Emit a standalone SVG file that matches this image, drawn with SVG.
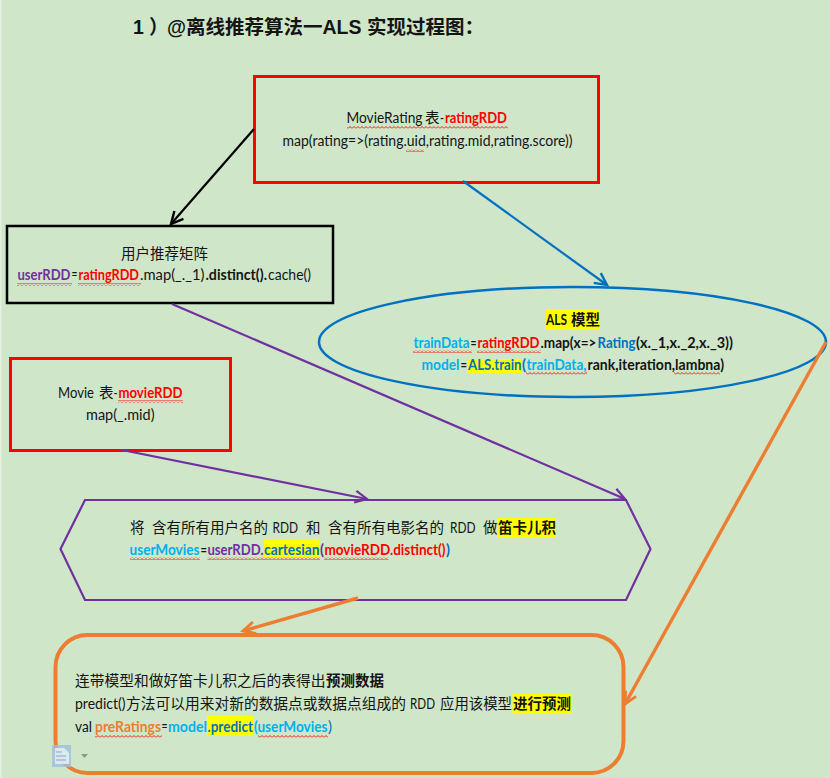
<svg xmlns="http://www.w3.org/2000/svg" width="830" height="778" viewBox="0 0 830 778">
<style>
text{font-family:Lato,"Noto Sans CJK SC",sans-serif;font-size:14.5px;fill:#141414}
.cjk{font-family:"Noto Sans CJK SC",sans-serif;font-size:14.5px}
.b{font-weight:700}
.r{fill:#ff0000}.p{fill:#7030a0}.c{fill:#00b0f0}.u{fill:#0070c0}.o{fill:#ed7d31}
.title{font-family:"Liberation Sans","Noto Sans CJK SC",sans-serif;font-size:19.5px;font-weight:700}
.y{fill:#ffff00}
.w{fill:url(#wave)}
.box{fill:none}
.conn{fill:none;stroke-width:2.2}
.thick{stroke-width:3.4}
</style>
<defs>
<pattern id="wave" patternUnits="userSpaceOnUse" width="4" height="3"><path d="M0 2.5L2 .5L4 2.5" fill="none" stroke="#f00" stroke-width=".9"/></pattern>
<marker id="mk" markerUnits="userSpaceOnUse" markerWidth="18" markerHeight="18" refX="15" refY="9" orient="auto"><path d="M3 3L15 9L3 15" fill="none" stroke="#000" stroke-width="2.4"/></marker>
<marker id="mu" markerUnits="userSpaceOnUse" markerWidth="18" markerHeight="18" refX="15" refY="9" orient="auto"><path d="M3 3L15 9L3 15" fill="none" stroke="#0070c0" stroke-width="2.4"/></marker>
<marker id="mp" markerUnits="userSpaceOnUse" markerWidth="18" markerHeight="18" refX="15" refY="9" orient="auto"><path d="M3 3L15 9L3 15" fill="none" stroke="#7030a0" stroke-width="2.2"/></marker>
<marker id="mo" markerUnits="userSpaceOnUse" markerWidth="18" markerHeight="18" refX="15" refY="9" orient="auto"><path d="M3 3L15 9L3 15" fill="none" stroke="#ed7d31" stroke-width="2.8"/></marker>
</defs>
<rect width="830" height="778" fill="#cfe6c9"/>
<rect width="1.5" height="778" fill="#e4f0e0"/>

<g id="title">
<text class="title" y="34"><tspan x="133">1</tspan><tspan x="149">）</tspan><tspan x="167">@离线推荐算法一ALS</tspan><tspan x="367">实现过程图：</tspan></text>
</g>

<g id="node-movierating">
<rect class="box" x="254.500" y="76.500" width="344" height="106" stroke="#ff0000" stroke-width="3"/>
<rect class="w" x="347" y="126" width="161" height="3"/><rect class="w" x="406" y="149" width="18" height="3"/>
<text y="123"><tspan x="346.500" textLength="76" lengthAdjust="spacingAndGlyphs">MovieRating</tspan><tspan class="cjk" x="425">表</tspan><tspan x="440" textLength="4" lengthAdjust="spacingAndGlyphs">-</tspan><tspan class="b r" x="445" textLength="62" lengthAdjust="spacingAndGlyphs">ratingRDD</tspan></text>
<text x="282.500" y="146" textLength="290" lengthAdjust="spacingAndGlyphs">map(rating=&gt;(rating.uid,rating.mid,rating.score))</text>
</g>

<g id="node-user-matrix">
<rect class="box" x="7" y="226" width="326" height="77" stroke="#000" stroke-width="2.500"/>
<text class="cjk" x="121" y="259">用户推荐矩阵</text>
<rect class="w" x="17" y="283" width="55" height="3"/><rect class="w" x="78" y="283" width="63" height="3"/>
<text y="280"><tspan class="b p" x="17.500" textLength="53" lengthAdjust="spacingAndGlyphs">userRDD</tspan><tspan x="71.500" textLength="6" lengthAdjust="spacingAndGlyphs">=</tspan><tspan class="b r" x="78.500" textLength="60.500" lengthAdjust="spacingAndGlyphs">ratingRDD</tspan><tspan x="140" textLength="64.500" lengthAdjust="spacingAndGlyphs">.map(_._1)</tspan><tspan class="b" x="205.500" textLength="61.500" lengthAdjust="spacingAndGlyphs">.distinct().</tspan><tspan x="268" textLength="43" lengthAdjust="spacingAndGlyphs">cache()</tspan></text>
</g>

<g id="node-als-model">
<ellipse class="box" cx="572.500" cy="342" rx="253.500" ry="55" stroke="#0070c0" stroke-width="2.500"/>
<rect class="y" x="545" y="309" width="55" height="21"/>
<text class="b" y="325"><tspan x="546" textLength="21" lengthAdjust="spacingAndGlyphs">ALS</tspan><tspan class="cjk" x="571">模型</tspan></text>
<rect class="w" x="413" y="350" width="59" height="3"/><rect class="w" x="477" y="350" width="64" height="3"/>
<text class="b" y="347.500"><tspan class="c" x="413.500" textLength="56" lengthAdjust="spacingAndGlyphs">trainData</tspan><tspan x="470.500" textLength="6" lengthAdjust="spacingAndGlyphs">=</tspan><tspan class="r" x="477.500" textLength="62" lengthAdjust="spacingAndGlyphs">ratingRDD</tspan><tspan x="540.500" textLength="56" lengthAdjust="spacingAndGlyphs">.map(x=&gt;</tspan><tspan class="u" x="597.500" textLength="38" lengthAdjust="spacingAndGlyphs">Rating</tspan><tspan x="636" textLength="97" lengthAdjust="spacingAndGlyphs">(x._1,x._2,x._3))</tspan></text>
<rect class="y" x="467.500" y="359" width="54.500" height="14"/>
<rect class="w" x="526" y="372" width="61" height="3"/><rect class="w" x="674" y="372" width="46" height="3"/>
<text class="b" y="369.500"><tspan class="c" x="421.500" textLength="38" lengthAdjust="spacingAndGlyphs">model</tspan><tspan x="460.500" textLength="6.500" lengthAdjust="spacingAndGlyphs">=</tspan><tspan class="u" x="468" textLength="53.500" lengthAdjust="spacingAndGlyphs">ALS.train</tspan><tspan class="u" x="522" textLength="4" lengthAdjust="spacingAndGlyphs">(</tspan><tspan class="c" x="526.500" textLength="60" lengthAdjust="spacingAndGlyphs">trainData,</tspan><tspan x="587.500" textLength="136.500" lengthAdjust="spacingAndGlyphs">rank,iteration,lambna)</tspan></text>
</g>

<g id="node-movie">
<rect class="box" x="10.500" y="358.500" width="220" height="92" stroke="#ff0000" stroke-width="3"/>
<rect class="w" x="118" y="400" width="65" height="3"/>
<text y="398"><tspan x="58" textLength="36" lengthAdjust="spacingAndGlyphs">Movie</tspan><tspan class="cjk" x="99">表</tspan><tspan x="113.500" textLength="4" lengthAdjust="spacingAndGlyphs">-</tspan><tspan class="b r" x="118.500" textLength="64" lengthAdjust="spacingAndGlyphs">movieRDD</tspan></text>
<text x="86" y="420" textLength="68.500" lengthAdjust="spacingAndGlyphs">map(_.mid)</text>
</g>

<g id="node-cartesian">
<polygon class="box" points="60.500,549 85,500 626,500 650.500,549 626,600 85,600" stroke="#7030a0" stroke-width="2.200"/>
<rect class="y" x="497" y="518" width="59" height="20"/>
<text y="533"><tspan class="cjk" x="130">将</tspan><tspan class="cjk" x="152">含有所有用户名的</tspan><tspan x="272.500" textLength="25.500" lengthAdjust="spacingAndGlyphs">RDD</tspan><tspan class="cjk" x="306">和</tspan><tspan class="cjk" x="328">含有所有电影名的</tspan><tspan x="450" textLength="25.500" lengthAdjust="spacingAndGlyphs">RDD</tspan><tspan class="cjk" x="483">做</tspan><tspan class="cjk b" x="498">笛卡儿积</tspan></text>
<rect class="y" x="264" y="539" width="55.500" height="19"/>
<rect class="w" x="130" y="557" width="70" height="3"/><rect class="w" x="207.500" y="557" width="112.500" height="3"/><rect class="w" x="324" y="557" width="64.500" height="3"/>
<text class="b" y="555"><tspan class="c" x="129.500" textLength="70" lengthAdjust="spacingAndGlyphs">userMovies</tspan><tspan x="200.500" textLength="6.500" lengthAdjust="spacingAndGlyphs">=</tspan><tspan class="p" x="207.500" textLength="56" lengthAdjust="spacingAndGlyphs">userRDD.</tspan><tspan class="u" x="264" textLength="55.500" lengthAdjust="spacingAndGlyphs">cartesian</tspan><tspan class="p" x="320" textLength="4" lengthAdjust="spacingAndGlyphs">(</tspan><tspan class="r" x="324.500" textLength="121" lengthAdjust="spacingAndGlyphs">movieRDD.distinct()</tspan><tspan class="u" x="446" textLength="4" lengthAdjust="spacingAndGlyphs">)</tspan></text>
</g>

<g id="node-predict">
<rect class="box" x="55.500" y="635" width="568" height="138" rx="32" stroke="#ed7d31" stroke-width="4"/>
<text y="686"><tspan class="cjk" x="75" textLength="250.500" lengthAdjust="spacingAndGlyphs">连带模型和做好笛卡儿积之后的表得出</tspan><tspan class="cjk b" x="326" textLength="58" lengthAdjust="spacingAndGlyphs">预测数据</tspan></text>
<rect class="y" x="512.500" y="694" width="59" height="20"/>
<text y="709"><tspan x="75" textLength="50.500" lengthAdjust="spacingAndGlyphs">predict()</tspan><tspan class="cjk" x="126" textLength="280" lengthAdjust="spacingAndGlyphs">方法可以用来对新的数据点或数据点组成的</tspan><tspan x="410" textLength="25" lengthAdjust="spacingAndGlyphs">RDD</tspan><tspan class="cjk" x="440" textLength="72" lengthAdjust="spacingAndGlyphs">应用该模型</tspan><tspan class="cjk b" x="513" textLength="58" lengthAdjust="spacingAndGlyphs">进行预测</tspan></text>
<rect class="y" x="207" y="716" width="46" height="20"/>
<rect class="w" x="95" y="735" width="67" height="3"/><rect class="w" x="258" y="735" width="70" height="3"/>
<text y="732"><tspan x="75" textLength="17" lengthAdjust="spacingAndGlyphs">val</tspan><tspan class="b o" x="95" textLength="66" lengthAdjust="spacingAndGlyphs">preRatings</tspan><tspan x="161.500" textLength="6" lengthAdjust="spacingAndGlyphs">=</tspan><tspan class="b c" x="168" textLength="39" lengthAdjust="spacingAndGlyphs">model</tspan><tspan class="b u" x="207.500" textLength="45.500" lengthAdjust="spacingAndGlyphs">.predict</tspan><tspan class="b c" x="254" textLength="73.500" lengthAdjust="spacingAndGlyphs">(userMovies</tspan><tspan class="u" x="328" textLength="4" lengthAdjust="spacingAndGlyphs">)</tspan></text>
</g>

<g id="connectors">
<path class="conn" d="M254 129L171 224" stroke="#000" marker-end="url(#mk)"/>
<path class="conn" d="M463 181L607 285" stroke="#0070c0" marker-end="url(#mu)"/>
<path class="conn" d="M172 304L625 499" stroke="#7030a0" marker-end="url(#mp)"/>
<path class="conn" d="M122 450L367 499" stroke="#7030a0" marker-end="url(#mp)"/>
<path class="conn thick" d="M826 342L625 704" stroke="#ed7d31" marker-end="url(#mo)"/>
<path class="conn thick" d="M358 598L243 631" stroke="#ed7d31" marker-end="url(#mo)"/>
</g>

<g id="paste-icon">
<rect x="52" y="745" width="19" height="22" fill="#9dbfdc" opacity=".8"/>
<path d="M55 748H64L69 753V764H55Z" fill="#e6eef2" opacity=".85"/>
<path d="M56 752H62M56 756H66M56 760H66" stroke="#9dbfdc" stroke-width="1.300"/>
<path d="M81 754H88L84.500 758Z" fill="#8a9a8a"/>
</g>
</svg>
